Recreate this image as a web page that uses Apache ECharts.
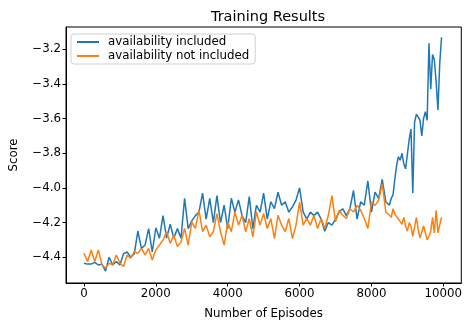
<!DOCTYPE html>
<html lang="en">
<head>
    <meta charset="UTF-8">
    <title>Training Results</title>
    <script src="https://cdn.jsdelivr.net/npm/echarts@6/dist/echarts.min.js"></script>
</head>
<body style="margin:0">
    <div id="chart-container" style="width: 465px; height: 325px;"></div>
    <script>
    // episodes (x), shared by both series
    var episodes = [
        0, 100, 200, 300, 400, 500, 600, 700, 800, 900,
        1000, 1100, 1200, 1300, 1400, 1500, 1600, 1700, 1800, 1900,
        2000, 2100, 2200, 2300, 2400, 2500, 2600, 2700, 2800, 2900,
        3000, 3100, 3200, 3300, 3400, 3500, 3600, 3700, 3800, 3900,
        4000, 4100, 4200, 4300, 4400, 4500, 4600, 4700, 4800, 4900,
        5000, 5100, 5200, 5300, 5400, 5500, 5600, 5700, 5800, 5900,
        6000, 6100, 6200, 6300, 6400, 6500, 6600, 6700, 6800, 6900,
        7000, 7100, 7200, 7300, 7400, 7500, 7600, 7700, 7800, 7900,
        8000, 8100, 8200, 8300, 8400, 8500,
        8550, 8600, 8650, 8700, 8750, 8800, 8850, 8900, 8950, 9000,
        9050, 9100, 9150, 9200, 9250, 9300, 9350, 9400, 9450, 9500,
        9550, 9600, 9650, 9700, 9750, 9800, 9850, 9900, 9950
    ];

    var included = [
        -4.435, -4.44, -4.44, -4.43, -4.445, -4.44, -4.48, -4.40, -4.445, -4.425,
        -4.445, -4.38, -4.37, -4.40, -4.38, -4.25, -4.35, -4.33, -4.235, -4.37,
        -4.23, -4.29, -4.16, -4.29, -4.21, -4.29, -4.235, -4.29, -4.06, -4.235,
        -4.19, -4.16, -4.14, -4.03, -4.18, -4.06, -4.20, -4.045, -4.20, -4.10,
        -4.235, -4.06, -4.14, -4.07, -4.16, -4.20, -4.05, -4.235, -4.10, -4.14,
        -4.03, -4.18, -4.08, -4.12, -4.025, -4.10, -4.08, -4.14, -4.11, -4.07,
        -4.00, -4.14, -4.18, -4.14, -4.16, -4.14, -4.18, -4.25, -4.20, -4.215,
        -4.18, -4.14, -4.12, -4.16, -4.12, -4.015, -4.18, -4.08, -4.10, -3.96,
        -4.14, -4.025, -4.06, -3.95, -4.08, -4.10,
        -4.06, -4.04, -3.95, -3.87, -3.82, -3.84, -3.80, -3.86, -3.89, -3.89,
        -3.72, -3.66, -4.03, -3.62, -3.575, -3.59, -3.61, -3.70, -3.60, -3.56,
        -3.61, -3.165, -3.43, -3.23, -3.26, -3.39, -3.55, -3.28, -3.13
    ];

    var notIncluded = [
        -4.378, -4.425, -4.358, -4.425, -4.358, -4.444, -4.463, -4.435, -4.444, -4.387,
        -4.435, -4.454, -4.387, -4.406, -4.368, -4.378, -4.349, -4.387, -4.349, -4.416,
        -4.358, -4.33, -4.30, -4.253, -4.32, -4.273, -4.339, -4.311, -4.234, -4.33,
        -4.196, -4.234, -4.129, -4.253, -4.215, -4.282, -4.253, -4.148, -4.253, -4.33,
        -4.196, -4.253, -4.139, -4.215, -4.158, -4.253, -4.177, -4.282, -4.139, -4.215,
        -4.148, -4.234, -4.177, -4.292, -4.158, -4.215, -4.253, -4.177, -4.292, -4.215,
        -4.082, -4.215, -4.177, -4.215, -4.158, -4.234, -4.177, -4.234, -4.158, -4.044,
        -4.196, -4.129, -4.158, -4.177, -4.12, -4.139, -4.101, -4.129, -4.177, -4.234,
        -4.082, -4.101, -4.072, -3.977, -4.139, -4.158,
        -4.17, -4.12, -4.15, -4.14, -4.18, -4.18, -4.21, -4.17, -4.22, -4.25,
        -4.20, -4.22, -4.28, -4.27, -4.17, -4.24, -4.29, -4.29, -4.22, -4.26,
        -4.30, -4.28, -4.25, -4.17, -4.26, -4.13, -4.26, -4.27, -4.17
    ];

    var xTicks = [0, 2000, 4000, 6000, 8000, 10000];
    var yTicks = [-4.4, -4.2, -4.0, -3.8, -3.6, -3.4, -3.2];

    function pairs(ys) {
        return episodes.map(function (x, i) { return [x, ys[i]]; });
    }

    var chart = echarts.init(document.getElementById('chart-container'));
    var font = 'DejaVu Sans';

    var option = {
        animation: false,
        textStyle: { fontFamily: font },
        title: {
            text: 'Training Results',
            left: 263, top: 5, textAlign: 'center',
            textStyle: { fontFamily: font, fontSize: 14.5, fontWeight: 'normal', color: '#000' }
        },
        legend: {
            orient: 'vertical',
            left: 71, top: 34,
            padding: [2, 6, 2, 6],
            itemGap: 2,
            itemWidth: 22, itemHeight: 2,
            icon: 'rect',
            backgroundColor: 'rgba(255,255,255,0.8)',
            borderColor: '#d0d0d0', borderWidth: 1, borderRadius: 3,
            textStyle: { fontFamily: font, fontSize: 11.8, color: '#000', padding: [0, 0, 0, 4] },
            data: ['availability included', 'availability not included']
        },
        grid: {
            left: 64, right: 2, top: 27, bottom: 40,
            show: true, borderColor: '#000', borderWidth: 1,
            containLabel: false
        },
        xAxis: {
            type: 'value',
            min: -500, max: 10500,
            name: 'Number of Episodes',
            nameLocation: 'middle', nameGap: 25,
            nameTextStyle: { fontFamily: font, fontSize: 11.8, color: '#000' },
            axisLine: { show: true, onZero: false, lineStyle: { color: '#000' } },
            axisTick: { show: true, length: 3.5, customValues: xTicks, lineStyle: { color: '#000' } },
            axisLabel: {
                customValues: xTicks, fontFamily: font, fontSize: 11.8, color: '#000', margin: 5,
                formatter: function (v) { return String(v); }
            },
            splitLine: { show: false }
        },
        yAxis: {
            type: 'value',
            min: -4.549, max: -3.071,
            name: 'Score',
            nameLocation: 'middle', nameGap: 46,
            nameTextStyle: { fontFamily: font, fontSize: 11.8, color: '#000' },
            axisLine: { show: true, onZero: false, lineStyle: { color: '#000' } },
            axisTick: { show: true, length: 3.5, customValues: yTicks, lineStyle: { color: '#000' } },
            axisLabel: {
                customValues: yTicks, fontFamily: font, fontSize: 11.8, color: '#000', margin: 5,
                formatter: function (v) { return v.toFixed(1).replace('-', '\u2212'); }
            },
            splitLine: { show: false }
        },
        series: [{
            name: 'availability included',
            type: 'line',
            data: pairs(included),
            showSymbol: false,
            color: '#1f77b4',
            lineStyle: { width: 1.5, color: '#1f77b4' }
        }, {
            name: 'availability not included',
            type: 'line',
            data: pairs(notIncluded),
            showSymbol: false,
            color: '#ff7f0e',
            lineStyle: { width: 1.5, color: '#ff7f0e' }
        }]
    };

    chart.setOption(option);
    </script>
</body>
</html>
